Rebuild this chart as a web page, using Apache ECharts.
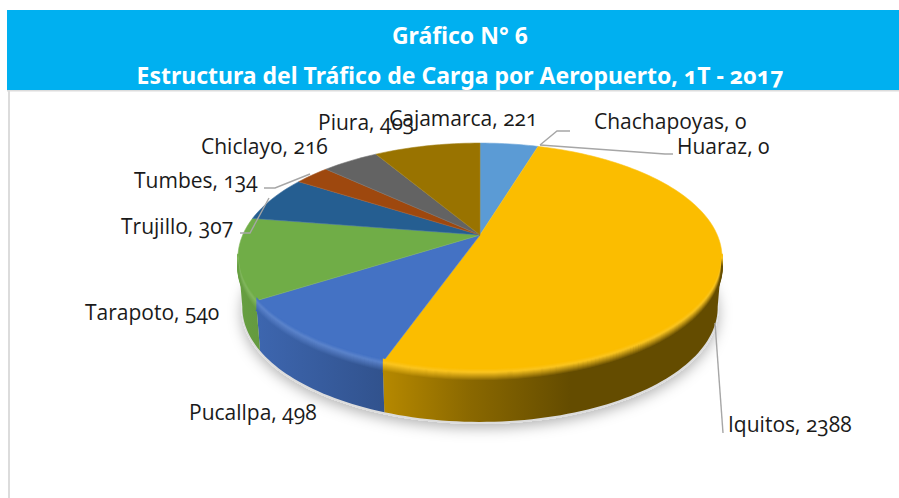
<!DOCTYPE html>
<html>
<head>
<meta charset="utf-8">
<style>
    html, body {margin: 0; padding: 0; background: #fff;}
    #chart {width: 899px; height: 498px;}
    /* cifras de estilo antiguo, como en el original */
    #chart text {font-feature-settings: "onum" 1 !important; font-variant-numeric: oldstyle-nums !important;}
</style>
<script src="https://cdn.jsdelivr.net/npm/echarts@6/dist/echarts.min.js"></script>
</head>
<body>
<div id="chart"></div>
<script>
const categories = ['Cajamarca', 'Chachapoyas', 'Huaraz', 'Iquitos', 'Pucallpa', 'Tarapoto', 'Trujillo', 'Tumbes', 'Chiclayo', 'Piura'];
const cargo_values = [221, 0, 0, 2388, 498, 540, 307, 134, 216, 403];
const slice_colors = ['#5B9BD5', '#ED7D31', '#A5A5A5', '#FBBD00', '#4472C4', '#70AD47', '#255E91', '#9E480E', '#636363', '#997300'];

// Posicion de las etiquetas: x izquierda, y centro
const label_pos = [[389, 118], [594, 121], [677, 146], [728, 424], [189, 412], [85, 312], [121, 226], [134, 180], [201, 146], [318, 122]];
// Lineas guia de las etiquetas
const leader_lines = {
    1: [[540, 145], [557, 131], [570, 131]],
    2: [[540, 145], [665, 154], [673, 154]],
    3: [[715, 323], [723, 433]],
    6: [[269, 198], [250, 233], [240, 233]],
    7: [[310, 174], [275, 188], [264, 188]]
};

// Proyeccion en perspectiva del disco
const APEX_X = 480, APEX_Y = 235, RX = 237.3, RY = 110, PERSP = 0.1965;
const DEPTH = 50, BOTTOM_SCALE = 0.982;
const SIDE_FROM = 101, SIDE_TO = 259;
const LABEL_FONT = '21px "Open Sans"';

const total_value = cargo_values.reduce((a, b) => a + b, 0);

function project(deg) {
    let t = deg * Math.PI / 180;
    let w = 1 + PERSP * Math.cos(t);
    return [APEX_X + RX * Math.sin(t) / w, APEX_Y - RY * Math.cos(t) / w];
}

function arc_points(from, to, dx_scale, dy) {
    let pts = [];
    let n = Math.max(2, Math.ceil((to - from) / 1.5));
    for (let i = 0; i <= n; i++) {
        let p = project(from + (to - from) * i / n);
        pts.push([APEX_X + (p[0] - APEX_X) * dx_scale, p[1] + dy]);
    }
    return pts;
}

function hex_rgb(c) {
    return [1, 3, 5].map(i => parseInt(c.substr(i, 2), 16));
}

function mix(a, b, t) {
    return a.map((v, i) => v + (b[i] - v) * t);
}

function rgb_css(c) {
    return `rgb(${c.map(v => Math.round(Math.min(255, v))).join(',')})`;
}

// Sombreado de la pared lateral segun x
const SIDE_SHADE = [[237, 0.92], [385, 0.72], [470, 0.55], [570, 0.40], [722, 0.40]];

function side_fill(base, highlight, t) {
    return {
        type: 'linear', x: 237, y: 0, x2: 722, y2: 0, global: true,
        colorStops: SIDE_SHADE.map(s => ({
            offset: (s[0] - 237) / 485,
            color: rgb_css(mix(highlight, base.map(v => v * s[1]), t))
        }))
    };
}

function render_slice(params) {
    let i = params.dataIndex;
    let start = cargo_values.slice(0, i).reduce((a, b) => a + b, 0) / total_value * 360;
    let end = start + cargo_values[i] / total_value * 360;
    let base = hex_rgb(slice_colors[i]);
    let light = mix(base, [255, 255, 255], 0.12);
    let children = [];

    if (i === 0) {
        children.push({
            type: 'polygon', z2: 0,
            shape: {points: arc_points(0, 360, 0.985, DEPTH + 2)},
            style: {fill: '#dcdcdc', shadowBlur: 14, shadowColor: 'rgba(0,0,0,0.3)', shadowOffsetY: 4}
        });
    }

    if (end > start) {
        let a = Math.max(start, SIDE_FROM), b = Math.min(end, SIDE_TO);
        if (b > a) {
            let upper = arc_points(a, b, 1, 0);
            let lower = arc_points(a, b, BOTTOM_SCALE, DEPTH).reverse();
            children.push({
                type: 'polygon', z2: 1,
                shape: {points: upper.concat(lower)},
                style: {fill: side_fill(base, base, 1)}
            });
        }
        children.push({
            type: 'polygon', z2: 2,
            shape: {points: [[APEX_X, APEX_Y]].concat(arc_points(start, end, 1, 0))},
            style: {fill: slice_colors[i], stroke: rgb_css(light), lineWidth: 0.6}
        });
        if (b > a) {
            // bisel del borde frontal
            for (let d = -3; d <= 9; d++) {
                let t = (d + 3) / 12;
                let fill = t < 0.3
                    ? rgb_css(mix(base, light, t / 0.3))
                    : side_fill(base, light, (t - 0.3) / 0.7);
                children.push({
                    type: 'polyline', z2: 3,
                    shape: {points: arc_points(a, b, 1, d)},
                    style: {fill: 'none', stroke: fill, lineWidth: 1.6}
                });
            }
        }
    }

    if (leader_lines[i]) {
        children.push({
            type: 'polyline', z2: 4,
            shape: {points: leader_lines[i]},
            style: {fill: 'none', stroke: '#A6A6A6', lineWidth: 1.4}
        });
    }
    children.push({
        type: 'text', z2: 5,
        style: {
            text: `${categories[i]}, ${cargo_values[i]}`,
            x: label_pos[i][0], y: label_pos[i][1],
            font: LABEL_FONT, fill: '#1a1a1a', verticalAlign: 'middle', align: 'left'
        }
    });
    return {type: 'group', children: children};
}

let chart = echarts.init(document.getElementById('chart'), null, {renderer: 'svg'});
chart.setOption({
    animation: false,
    backgroundColor: '#fff',
    title: [
        {text: 'Gráfico N° 6', left: 455, top: 18, textAlign: 'center',
            textStyle: {color: '#fff', fontFamily: 'Noto Sans', fontWeight: 'bold', fontSize: 23}},
        {text: 'Estructura del Tráfico de Carga por Aeropuerto, 1T - 2017', left: 455, top: 58, textAlign: 'center',
            textStyle: {color: '#fff', fontFamily: 'Noto Sans', fontWeight: 'bold', fontSize: 23}}
    ],
    graphic: [
        {type: 'rect', z: -1, shape: {x: 7, y: 10, width: 892, height: 80}, style: {fill: '#00B0F0'}},
        {type: 'rect', z: -1, shape: {x: 7, y: 90, width: 892, height: 1.5}, style: {fill: '#dcdcdc'}},
        {type: 'rect', z: -1, shape: {x: 8, y: 90, width: 2, height: 408}, style: {fill: '#dcdcdc'}}
    ],
    series: [{
        type: 'custom',
        coordinateSystem: 'none',
        clip: false,
        silent: true,
        data: categories.map((c, i) => ({name: c, value: cargo_values[i]})),
        renderItem: render_slice
    }]
});
</script>
</body>
</html>
